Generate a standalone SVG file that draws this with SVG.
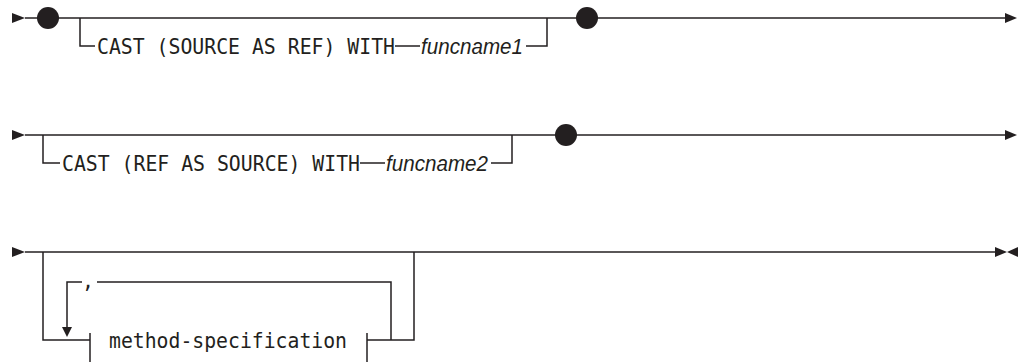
<svg xmlns="http://www.w3.org/2000/svg" width="1022" height="363" viewBox="0 0 1022 363">
<style>
.ln{fill:none;stroke:#231f20;stroke-width:1.5}
.ah{fill:#231f20;stroke:none}
.dot{fill:#231f20}
.kw{font-family:"DejaVu Sans Mono","Liberation Mono",monospace;font-size:22px;fill:#231f20}
.var{font-family:"Liberation Sans","DejaVu Sans",sans-serif;font-size:22px;font-style:italic;fill:#231f20}
</style>
<rect width="1022" height="363" fill="#ffffff"/>
<g id="connectors">
  <!-- row 1 -->
  <polygon class="ah" points="12,13 25,18 12,23"/>
  <path class="ln" d="M25,18 H1005"/>
  <path class="ln" d="M80,18 V46 H95"/>
  <path class="ln" d="M395,46 H420"/>
  <path class="ln" d="M526,46 H547 V18"/>
  <polygon class="ah" points="1005,13 1017,18 1005,23"/>
  <!-- row 2 -->
  <polygon class="ah" points="12,130 25,135 12,140"/>
  <path class="ln" d="M25,135 H1005"/>
  <path class="ln" d="M43,135 V163 H60"/>
  <path class="ln" d="M360,163 H385"/>
  <path class="ln" d="M491,163 H512 V135"/>
  <polygon class="ah" points="1005,130 1017,135 1005,140"/>
  <!-- row 3 -->
  <polygon class="ah" points="12,247 25,252 12,257"/>
  <path class="ln" d="M25,252 H995"/>
  <path class="ln" d="M43,252 V340 H90"/>
  <path class="ln" d="M90,333 V362"/>
  <path class="ln" d="M82,282 H67 V327"/>
  <polygon class="ah" points="62,327 72,327 67,337"/>
  <path class="ln" d="M97,282 H391 V340"/>
  <path class="ln" d="M367,333 V362"/>
  <path class="ln" d="M367,340 H414 V252"/>
  <polygon class="ah" points="995,247 1007,252 995,257"/>
  <polygon class="ah" points="1018,247 1007,252 1018,257"/>
</g>
<g id="dot1"><circle class="dot" cx="48" cy="18" r="11"/></g>
<g id="cast1">
  <text class="kw" x="97" y="54" textLength="298" lengthAdjust="spacingAndGlyphs">CAST (SOURCE AS REF) WITH</text>
  <text class="var" x="421" y="54" textLength="102" lengthAdjust="spacingAndGlyphs">funcname1</text>
</g>
<g id="dot2"><circle class="dot" cx="587" cy="18" r="11"/></g>
<g id="cast2">
  <text class="kw" x="62" y="171" textLength="298" lengthAdjust="spacingAndGlyphs">CAST (REF AS SOURCE) WITH</text>
  <text class="var" x="386" y="171" textLength="102" lengthAdjust="spacingAndGlyphs">funcname2</text>
</g>
<g id="dot3"><circle class="dot" cx="566" cy="135" r="11"/></g>
<g id="comma"><text class="kw" x="82" y="288" textLength="12" lengthAdjust="spacingAndGlyphs">,</text></g>
<g id="method-specification">
  <text class="kw" x="109" y="348" textLength="238" lengthAdjust="spacingAndGlyphs">method-specification</text>
</g>
</svg>
